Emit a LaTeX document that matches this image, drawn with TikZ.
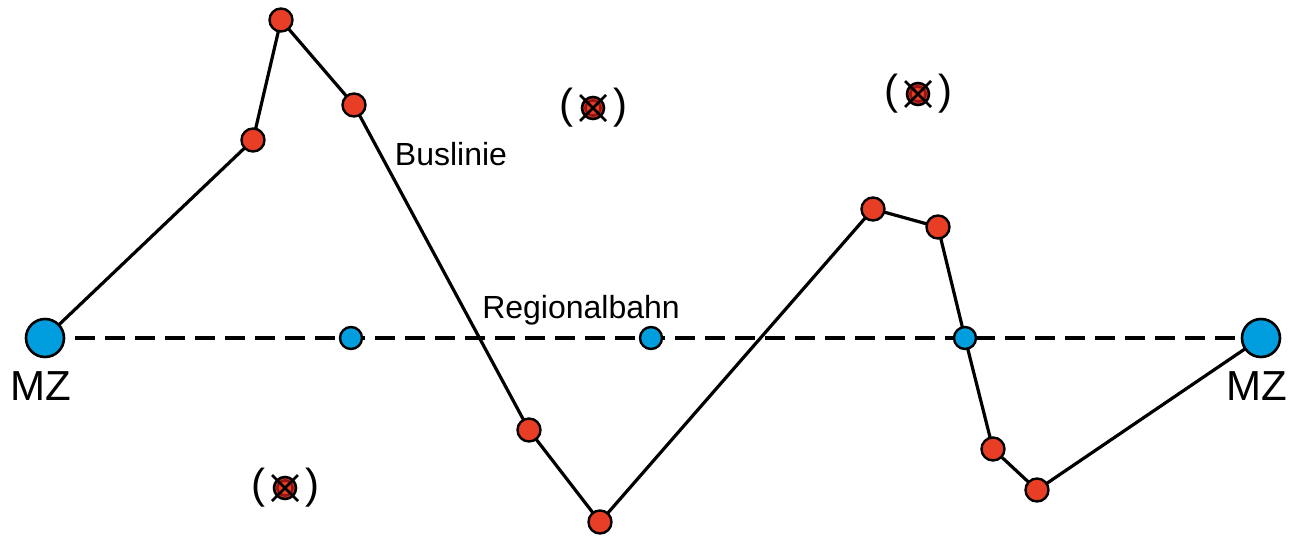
\documentclass[tikz,border=0pt]{standalone}
\usepackage{fontspec}
\setmainfont{Liberation Sans}
\definecolor{stopred}{RGB}{232,62,38}
\definecolor{hubblue}{RGB}{0,158,222}
\definecolor{darkred}{RGB}{150,20,20}
\begin{document}
\begin{tikzpicture}[x=0.5pt,y=-0.5pt,
  busstop/.style={circle,draw=black,fill=stopred,line width=1.2pt,minimum size=11.5pt,inner sep=0pt},
  railstop/.style={circle,draw=black,fill=hubblue,line width=1.2pt,minimum size=11pt,inner sep=0pt},
  hub/.style={circle,draw=black,fill=hubblue,line width=1.3pt,minimum size=19pt,inner sep=0pt},
  busline/.style={line width=1.6pt},
  railline/.style={line width=1.6pt,dash pattern=on 10pt off 5pt},
  lbl/.style={font=\fontsize{16pt}{18pt}\selectfont,inner sep=0pt},
  mz/.style={font=\fontsize{21pt}{24pt}\selectfont,inner sep=0pt},
  paren/.style={font=\fontsize{21pt}{24pt}\selectfont,inner sep=0pt}
]
\useasboundingbox (0,0) rectangle (1296,536);

% rail line between the two centres
\coordinate (L) at (45,338);
\coordinate (R) at (1261,338);
\draw[railline] (L) -- (R);

% bus line stops
\coordinate (b1) at (253,140);
\coordinate (b2) at (281,20);
\coordinate (b3) at (354,105);
\coordinate (b4) at (529,430);
\coordinate (b5) at (600,522);
\coordinate (b6) at (873,209);
\coordinate (b7) at (938,227);
\coordinate (r3) at (965,338);
\coordinate (b8) at (993,449);
\coordinate (b9) at (1037,490);
\draw[busline] (L) -- (b1) -- (b2) -- (b3) -- (b4) -- (b5) -- (b6) -- (b7) -- (r3) -- (b8) -- (b9) -- (R);

\foreach \p in {b1,b2,b3,b4,b5,b6,b7,b8,b9}
  \node[busstop] at (\p) {};

\node[railstop] (s1) at (351,338) {};
\node[railstop] (s2) at (651,338) {};
\node[railstop] (s3) at (r3) {};

\node[hub] (mzl) at (L) {};
\node[hub] (mzr) at (R) {};
\node[mz] at (41,386) {MZ};
\node[mz] at (1257,386) {MZ};

\node[lbl] at (451,154) {Buslinie};
\node[lbl] at (581,310) {Regionalbahn};

% abandoned stops in brackets
\foreach \cx/\cy [count=\i] in {593/108, 918/94, 285/488} {
  \node[paren] at (\cx-27,\cy) {(};
  \node[paren] at (\cx+27,\cy) {)};
  \fill[stopred] (\cx,\cy) circle (5.5pt);
  \draw[darkred,line width=1.3pt] (\cx,\cy) circle (3.8pt);
  \draw[black,line width=1.3pt] (\cx,\cy) circle (5.5pt);
  \draw[black,line width=1.4pt] (\cx-13,\cy-13) -- (\cx+13,\cy+13);
  \draw[black,line width=1.4pt] (\cx-13,\cy+13) -- (\cx+13,\cy-13);
}
\end{tikzpicture}
\end{document}
